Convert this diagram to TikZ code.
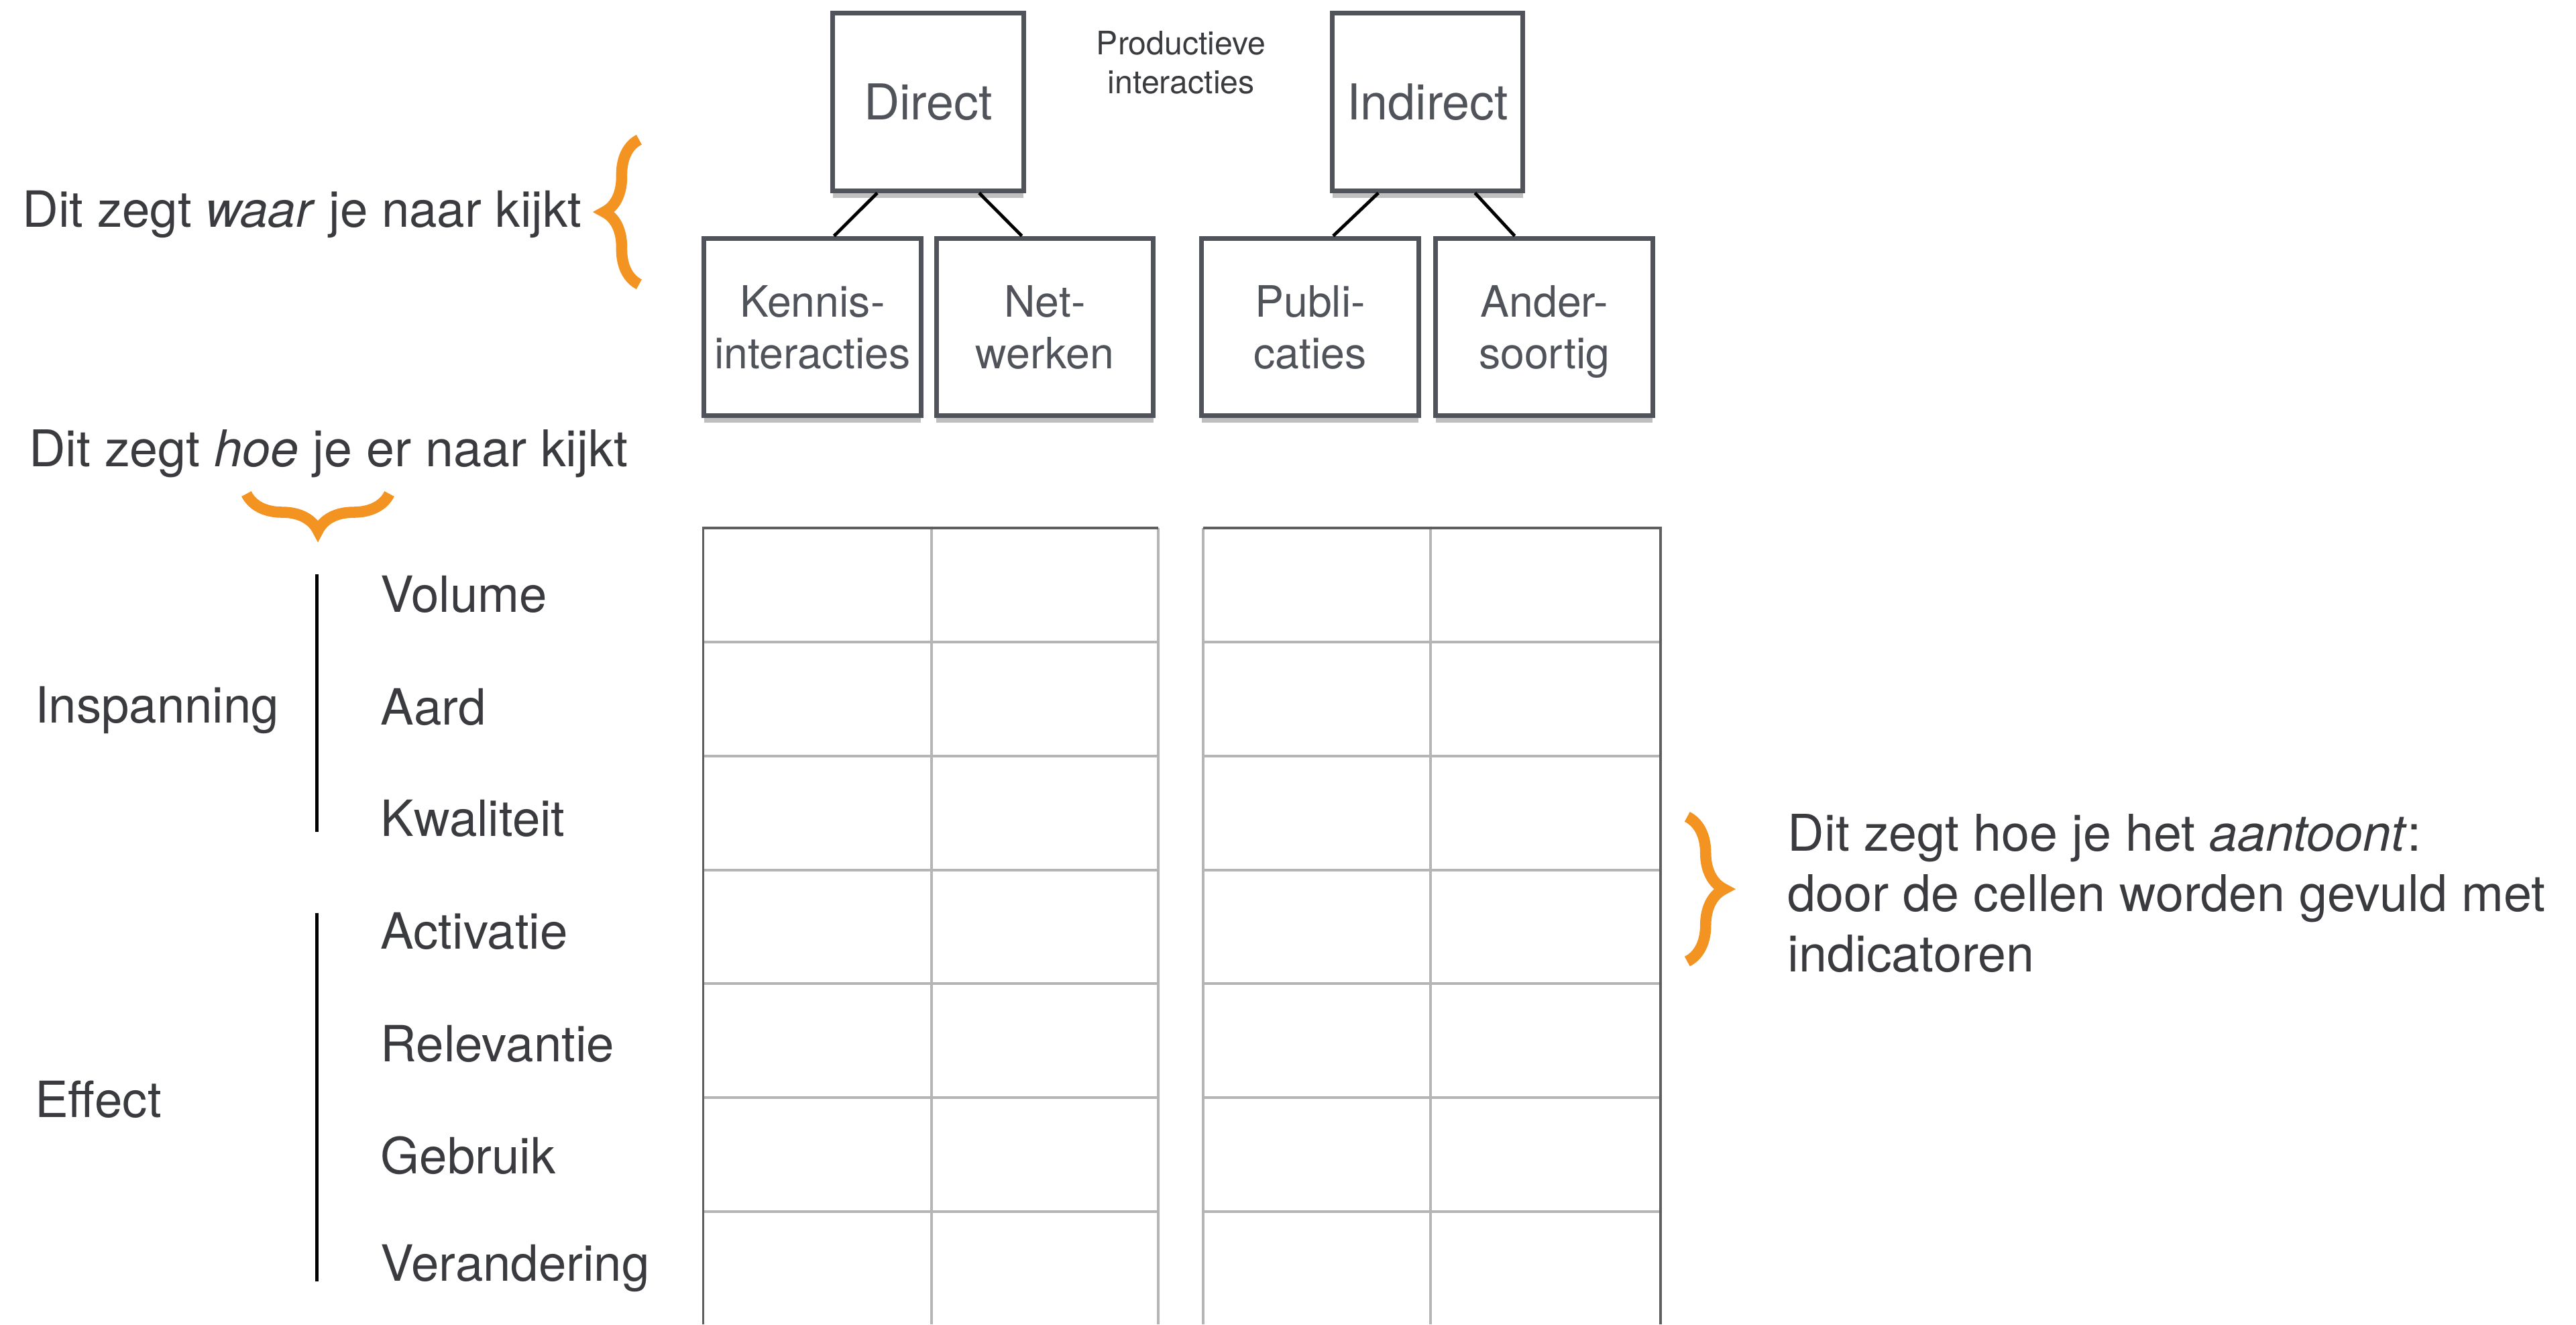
\documentclass[tikz,border=0pt]{standalone}
\usepackage{fontspec}
\setmainfont{TeX Gyre Heros}
\usetikzlibrary{shadows,decorations.pathreplacing}
\definecolor{txtgray}{HTML}{3A3B3F}
\definecolor{boxtxt}{HTML}{50545A}
\definecolor{boxgray}{HTML}{50545A}
\definecolor{braceorange}{HTML}{F39322}
\definecolor{griddark}{HTML}{5F5F5F}
\definecolor{gridlight}{HTML}{B5B5B5}

\begin{document}
\begin{tikzpicture}[x=0.025cm, y=-0.025cm,
  block/.style={draw=boxgray, line width=2pt, fill=white, align=center, text=boxtxt,
    minimum height=2.7cm, inner sep=0pt, text depth=0pt, font=\fontsize{18.7}{22.4}\selectfont,
    drop shadow={shadow xshift=0pt, shadow yshift=-3pt, opacity=0.25, fill=black}},
  note/.style={inner sep=0pt, text=txtgray, font=\fontsize{21.9}{26.2}\selectfont},
  rowlabel/.style={inner sep=0pt, anchor=base west, text=txtgray, font=\fontsize{21.6}{24}\selectfont},
  link/.style={line width=1.4pt, black},
  bar/.style={line width=1.5pt, black},
  accolade/.style={decorate, decoration={brace, amplitude=#1}, line width=4.8pt, draw=braceorange},
  cellline/.style={line width=1.2pt, gridlight},
  rim/.style={line width=1.1pt, griddark}]

  \useasboundingbox (0,0) rectangle (1568,806);

  % Top row
  \node[block, minimum width=2.9cm, font=\fontsize{21.4}{22.4}\selectfont] (direct) at (565,62) {Direct};
  \node[block, minimum width=2.9cm, font=\fontsize{21.4}{22.4}\selectfont] (indirect) at (869,62) {Indirect};
  \node[note, anchor=north, align=center, font=\fontsize{14}{17}\selectfont] (prod) at (719,18.5) {Productieve\\interacties};

  % Second row
  \node[block, minimum width=3.3cm] (kennis) at (494.5,199) {Kennis-\\interacties};
  \node[block, minimum width=3.3cm] (netwerk) at (636,199) {Net-\\werken};
  \node[block, minimum width=3.3cm] (publ) at (797.5,199) {Publi-\\caties};
  \node[block, minimum width=3.3cm] (ander) at (940,199) {Ander-\\soortig};

  % Tree lines
  \draw[link] ([xshift=-0.775cm]direct.south) -- ([xshift=0.33cm]kennis.north);
  \draw[link] ([xshift=0.775cm]direct.south) -- ([xshift=-0.35cm]netwerk.north);
  \draw[link] ([xshift=-0.75cm]indirect.south) -- ([xshift=0.35cm]publ.north);
  \draw[link] ([xshift=0.72cm]indirect.south) -- ([xshift=-0.45cm]ander.north);

  % Explanations
  \node[note, anchor=base west, font=\fontsize{21.6}{26.2}\selectfont] (waar) at (13.5,138) {Dit zegt \textit{waar} je naar kijkt};
  \node[note, anchor=base west] (hoe) at (17.3,284) {Dit zegt \textit{hoe} je er naar kijkt};
  \node[note, anchor=north west, align=left] (aantoont) at (1088,495)
    {Dit zegt hoe je het \textit{aantoont}:\\door de cellen worden gevuld met\\indicatoren};

  % Braces
  \draw[accolade=0.53cm] (389,173) -- (389,85);
  \draw[accolade=0.56cm] (237,300.5) -- (150,300.5);
  \draw[accolade=0.56cm] (1027,497) -- (1027,585);

  % Row labels
  \node[rowlabel] (inspanning) at (21,440) {Inspanning};
  \node[rowlabel] (effect) at (21,679.8) {Effect};
  \node[rowlabel] (volume) at (231.5,372.6) {Volume};
  \node[rowlabel] (aard) at (231.5,440.9) {Aard};
  \node[rowlabel] (kwaliteit) at (231.5,509) {Kwaliteit};
  \node[rowlabel] (activatie) at (231.5,577.6) {Activatie};
  \node[rowlabel] (relevantie) at (231.5,646) {Relevantie};
  \node[rowlabel] (gebruik) at (231.5,714) {Gebruik};
  \node[rowlabel] (verandering) at (231.5,779.7) {Verandering};
  \draw[bar] (193,349.6) -- (193,506);
  \draw[bar] (193,555.4) -- (193,779.7);

  % Grids
  \foreach \l/\m/\r in {428/567/705, 732.4/870.6/1010.8}{
    \foreach \y in {390.7,460,529.3,598.6,667.9,737.2}
      \draw[cellline] (\l,\y) -- (\r,\y);
    \draw[cellline] (\m,321.4) -- (\m,806);
  }
  \draw[cellline] (705,321.4) -- (705,806);
  \draw[cellline] (732.4,321.4) -- (732.4,806);
  \draw[rim] (428,806) -- (428,321.4) -- (705,321.4);
  \draw[rim] (732.4,321.4) -- (1010.8,321.4) -- (1010.8,806);

\end{tikzpicture}
\end{document}
